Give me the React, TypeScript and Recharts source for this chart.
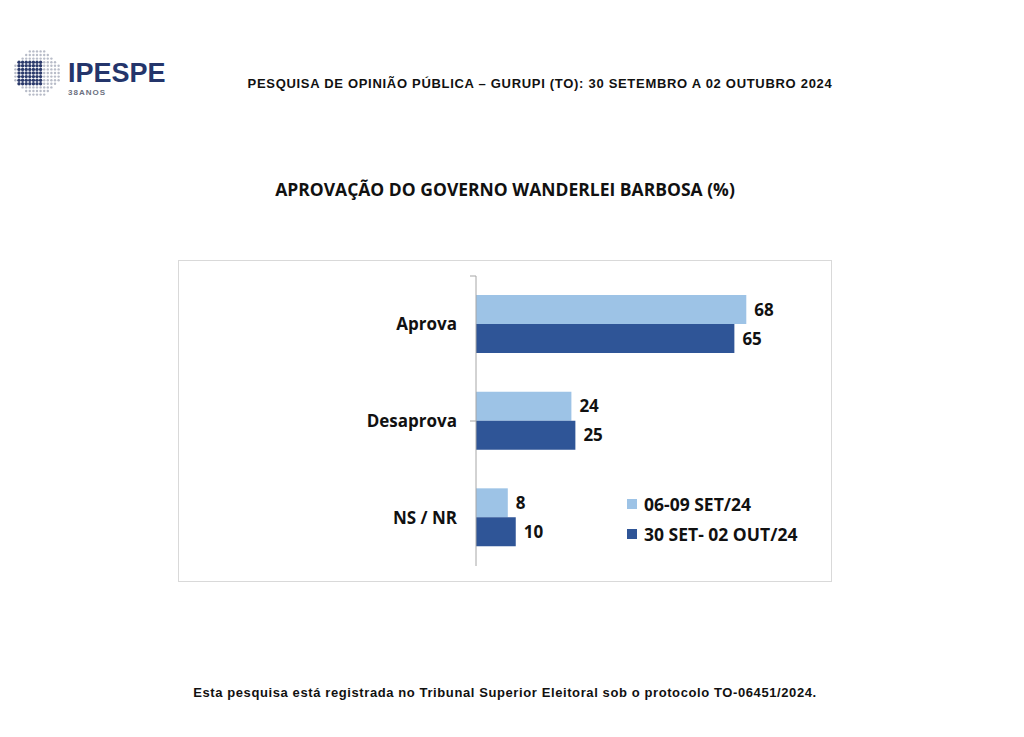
import React from "react";
import { BarChart, Bar, XAxis, YAxis, LabelList } from "recharts";

const categories = ["Aprova", "Desaprova", "NS / NR"];
const set24 = [68, 24, 8];
const out24 = [65, 25, 10];
const seriesNames = ["06-09 SET/24", "30 SET- 02 OUT/24"];
const seriesColors = ["#9DC3E6", "#2F5597"];
const boundaryTicks = [0, 1, 2, 3];

const data = categories.map((c, i) => ({ name: c, a: set24[i], b: out24[i] }));

const labelFont = "'Open Sans', 'Noto Sans', sans-serif";
const arial = "'Liberation Sans', Arial, sans-serif";

const Logo = () => {
  const dots: React.ReactNode[] = [];
  const cx = 37;
  const cy = 28;
  const r = 23;
  for (let i = -6; i <= 6; i++) {
    for (let j = -6; j <= 6; j++) {
      const x = cx + i * 3.6;
      const y = cy + j * 3.6;
      if (Math.hypot(x - cx, y - cy) > r) continue;
      const dark = i >= -5 && i <= 1 && Math.abs(j) <= 3;
      dots.push(
        <circle key={`${i}-${j}`} cx={x} cy={y} r={dark ? 1.7 : 1.2} fill={dark ? "#2B3A6B" : "#B8BCC8"} />
      );
    }
  }
  return (
    <svg width={180} height={60} style={{ position: "absolute", left: 0, top: 45 }}>
      {dots}
      <text x={68} y={37} fontFamily={arial} fontWeight="bold" fontSize={27} fill="#24356B">
        IPESPE
      </text>
      <text x={68} y={50} fontFamily={arial} fontWeight="bold" fontSize={8} fill="#6B7080" letterSpacing={1}>
        38ANOS
      </text>
    </svg>
  );
};

const EmptyTick = () => <g />;

export default function App() {
  return (
    <div style={{ position: "absolute", left: 0, top: 0, width: 1024, height: 737, background: "#fff" }}>
      <Logo />
      <div
        style={{
          position: "absolute",
          left: 200,
          top: 76,
          width: 680,
          textAlign: "center",
          fontFamily: arial,
          fontWeight: 700,
          fontSize: 13,
          letterSpacing: 0.7,
          color: "#111",
        }}
      >
        PESQUISA DE OPINIÃO PÚBLICA – GURUPI (TO): 30 SETEMBRO A 02 OUTUBRO 2024
      </div>
      <div
        style={{
          position: "absolute",
          left: 155,
          top: 177,
          width: 700,
          textAlign: "center",
          fontFamily: labelFont,
          fontWeight: 700,
          fontSize: 17.5,
          color: "#111",
        }}
      >
        APROVAÇÃO DO GOVERNO WANDERLEI BARBOSA (%)
      </div>
      <div
        style={{
          position: "absolute",
          left: 178,
          top: 260,
          width: 654,
          height: 322,
          border: "1px solid #D9D9D9",
          boxSizing: "border-box",
        }}
      >
        <BarChart
          width={652}
          height={320}
          data={data}
          layout="vertical"
          margin={{ top: 15, right: 37, bottom: 15, left: 0 }}
          barGap={0}
        >
          <XAxis type="number" domain={[0, 80]} hide />
          <YAxis
            yAxisId="bounds"
            type="number"
            domain={[0, 3]}
            ticks={boundaryTicks}
            width={6}
            tick={EmptyTick}
            axisLine={{ stroke: "#A6A6A6" }}
            tickSize={6}
            tickLine={{ stroke: "#A6A6A6" }}
          />
          <YAxis
            yAxisId="cats"
            type="category"
            dataKey="name"
            width={291}
            axisLine={false}
            tickLine={false}
            tickMargin={7}
            tick={{ fontFamily: labelFont, fontWeight: 700, fontSize: 17, fill: "#111" }}
          />
          <Bar yAxisId="cats" dataKey="a" name={seriesNames[0]} fill={seriesColors[0]} barSize={29} isAnimationActive={false}>
            <LabelList dataKey="a" position="right" offset={8} style={{ fontFamily: labelFont, fontWeight: 700, fontSize: 17, fill: "#111" }} />
          </Bar>
          <Bar yAxisId="cats" dataKey="b" name={seriesNames[1]} fill={seriesColors[1]} barSize={29} isAnimationActive={false}>
            <LabelList dataKey="b" position="right" offset={8} style={{ fontFamily: labelFont, fontWeight: 700, fontSize: 17, fill: "#111" }} />
          </Bar>
        </BarChart>
        <div
          style={{
            position: "absolute",
            left: 448,
            top: 228,
            fontFamily: labelFont,
            fontWeight: 700,
            fontSize: 17.5,
            color: "#111",
          }}
        >
          {seriesNames.map((n, i) => (
            <div key={n} style={{ display: "flex", alignItems: "center", height: 30 }}>
              <span style={{ width: 10, height: 10, background: seriesColors[i], marginRight: 7, display: "inline-block" }} />
              <span>{n}</span>
            </div>
          ))}
        </div>
      </div>
      <div
        style={{
          position: "absolute",
          left: 105,
          top: 685,
          width: 800,
          textAlign: "center",
          fontFamily: arial,
          fontWeight: 700,
          fontSize: 13,
          letterSpacing: 0.6,
          color: "#111",
        }}
      >
        Esta pesquisa está registrada no Tribunal Superior Eleitoral sob o protocolo TO-06451/2024.
      </div>
    </div>
  );
}
